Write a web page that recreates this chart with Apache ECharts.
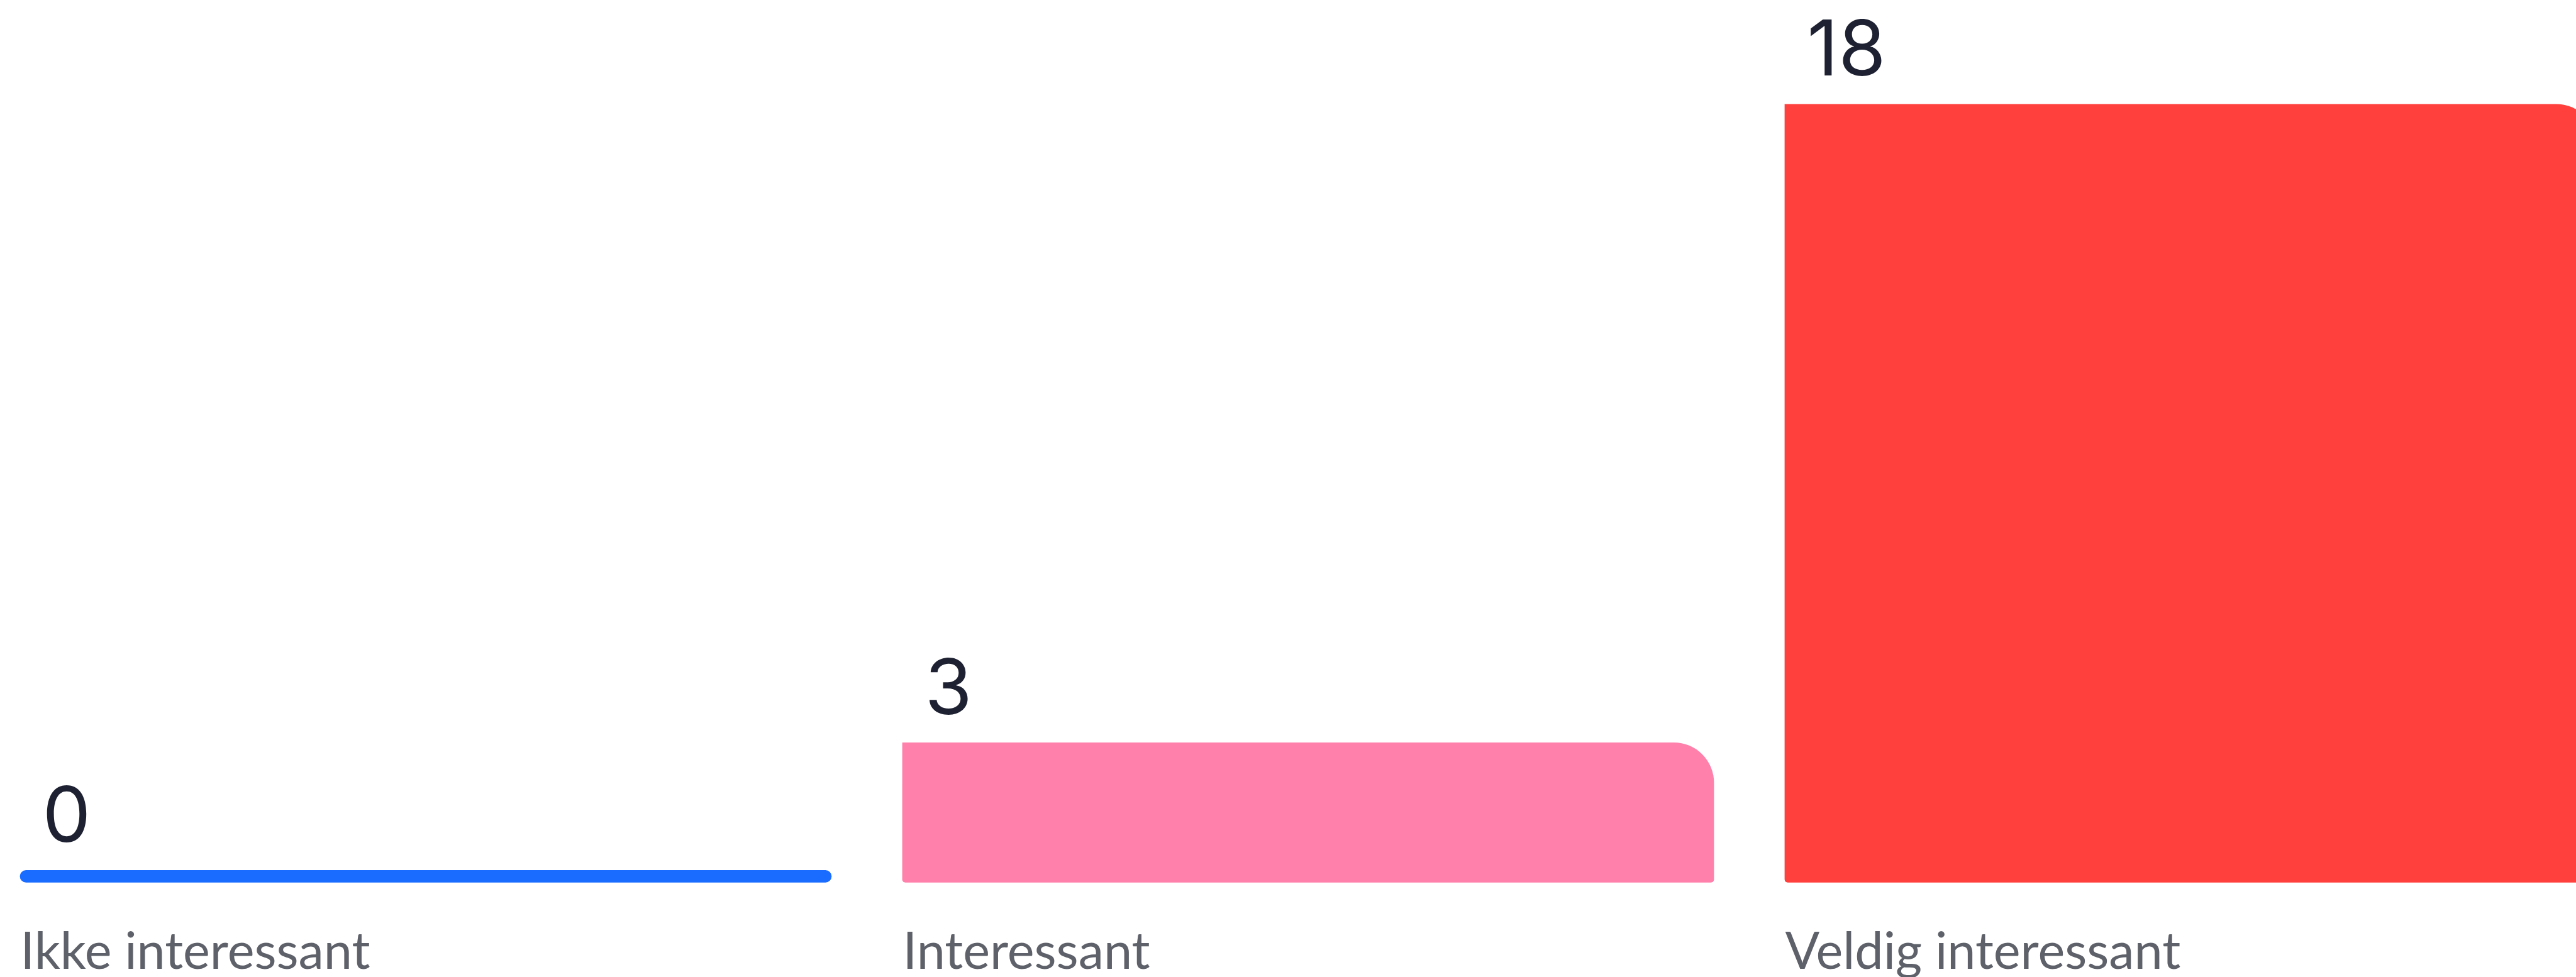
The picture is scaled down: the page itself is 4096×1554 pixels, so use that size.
<!DOCTYPE html>
<html>
<head>
<meta charset="utf-8">
<title>Bar chart</title>
<script src="https://cdn.jsdelivr.net/npm/echarts@6/dist/echarts.min.js"></script>
<style>
	html, body {
		margin: 0;
		padding: 0;
		background: #ffffff;
	}
	#chart {
		width: 4096px;
		height: 1554px;
	}
</style>
</head>
<body>
<div id="chart"></div>
<script>
// data
const categories = ["Ikke interessant", "Interessant", "Veldig interessant"];
const counts = [0, 3, 18];
const barColors = ["#1a6bff", "#ff80aa", "#ff403d"];

// bars always get a small baseline strip below the zero line
const baseThick = 19.7;
const barRatio = 0.92;

let myChart = echarts.init(document.getElementById("chart"));

function renderBar(params, api) {
	let i = api.value(0);
	let v = api.value(1);
	let top = api.coord([i, v]);
	let zero = api.coord([i, 0]);
	let band = api.size([1, 0])[0];
	let w = band * barRatio;
	let x = top[0] - w / 2;
	let bottom = zero[1] + baseThick;
	let h = bottom - top[1];
	let r = v === 0 ? baseThick / 2 : [0, Math.min(64, h), 5, 5];
	return {
		type: "group",
		children: [
			{
				type: "rect",
				shape: { x: x, y: top[1], width: w, height: h, r: r },
				style: { fill: barColors[i] }
			},
			{
				type: "text",
				style: {
					x: x + 36,
					y: top[1] - 21,
					text: String(v),
					fill: "#1d2131",
					font: "400 122px Inter",
					align: "left",
					verticalAlign: "bottom"
				}
			},
			{
				type: "text",
				style: {
					x: x + 1,
					y: bottom + 111,
					text: categories[i],
					fill: "#5e6169",
					font: "400 81px Lato",
					align: "left",
					verticalAlign: "middle"
				}
			}
		]
	};
}

myChart.setOption({
	animation: false,
	backgroundColor: "#ffffff",
	grid: {
		left: 0,
		right: 0,
		top: 30,
		bottom: 170
	},
	xAxis: {
		type: "value",
		min: -0.4825,
		max: 2.4369,
		show: false
	},
	yAxis: {
		type: "value",
		min: 0,
		max: 20,
		show: false
	},
	series: [
		{
			type: "custom",
			renderItem: renderBar,
			data: counts.map((c, i) => [i, c])
		}
	]
});
</script>
</body>
</html>
